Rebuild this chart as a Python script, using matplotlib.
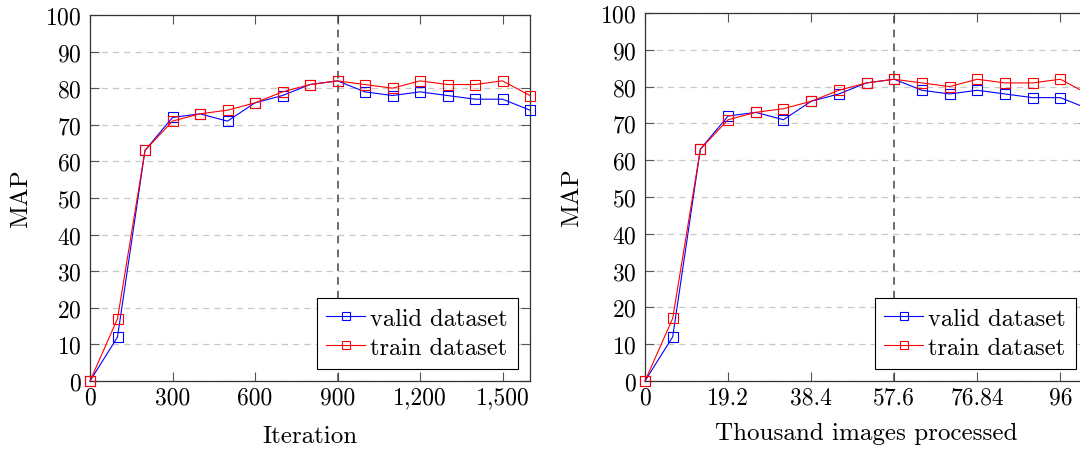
import numpy as np
import matplotlib
matplotlib.use('Agg')
import matplotlib.pyplot as plt

plt.rcParams['font.family'] = ['cmr10', 'DejaVu Serif']
plt.rcParams['axes.formatter.use_mathtext'] = True
plt.rcParams['font.size'] = 17

# data
iterations = np.arange(0, 1700, 100)
valid_map = [0, 12, 63, 72, 73, 71, 76, 78, 81, 82, 79, 78, 79, 78, 77, 77, 74]
train_map = [0, 17, 63, 71, 73, 74, 76, 79, 81, 82, 81, 80, 82, 81, 81, 82, 78]
images_per_iter = 0.064  # thousand images per iteration
best_iter = 900

left_ticks = [0, 300, 600, 900, 1200, 1500]
left_ticklabels = ['0', '300', '600', '900', '1,200', '1,500']
right_ticks = [0, 19.2, 38.4, 57.6, 76.8, 96]
right_ticklabels = ['0', '19.2', '38.4', '57.6', '76.84', '96']
y_ticks = list(range(0, 101, 10))

W, H = 1080, 452
fig = plt.figure(figsize=(W / 100, H / 100), dpi=100)
ax1 = fig.add_axes([90 / W, 70 / H, 440 / W, 366 / H])
ax2 = fig.add_axes([645 / W, 70 / H, 443 / W, 368 / H])


def draw(ax, x, xmax, ticks, ticklabels, vline, xlabel, ylab_x, xlab_y):
	ax.plot(x, valid_map, color='#0000ff', lw=0.8, marker='s', ms=7.5,
			mfc='none', mew=0.8, label='valid dataset', zorder=3, clip_on=False)
	ax.plot(x, train_map, color='#ff0000', lw=0.8, marker='s', ms=7.5,
			mfc='none', mew=0.8, label='train dataset', zorder=3, clip_on=False)
	ax.axvline(vline, color='#444444', lw=1.1, ls=(0, (5, 4)), zorder=2)
	ax.set_xlim(0, xmax)
	ax.set_ylim(0, 100)
	ax.set_xticks(ticks)
	ax.set_xticklabels(ticklabels)
	ax.set_yticks(y_ticks)
	ax.grid(axis='y', color='#c8c8c8', ls=(0, (5, 4)), lw=0.9)
	ax.set_axisbelow(True)
	ax.tick_params(direction='in', length=6.5, width=0.8, color='#555555',
				   top=True, right=True, pad=4)
	ax.tick_params(axis='y', pad=6)
	for s in ax.spines.values():
		s.set_color('#333333')
		s.set_linewidth(0.9)
	ax.set_xlabel(xlabel, fontsize=18)
	ax.set_ylabel('MAP', fontsize=18)
	ax.xaxis.set_label_coords(0.5, xlab_y)
	ax.xaxis.label.set_va('top')
	ax.yaxis.set_label_coords(ylab_x, 0.5)
	leg = ax.legend(loc='lower right', fancybox=False, framealpha=1,
					edgecolor='black', borderaxespad=0.5, handlelength=1.6,
					handletextpad=0.2, borderpad=0.4, labelspacing=0.3,
					markerscale=0.75, fontsize=17.6)
	leg.get_frame().set_linewidth(0.8)
	leg.set_zorder(5)


draw(ax1, iterations, 1600, left_ticks, left_ticklabels, best_iter,
	 'Iteration', -0.132, -0.12)
draw(ax2, iterations * images_per_iter, 1600 * images_per_iter, right_ticks,
	 right_ticklabels, best_iter * images_per_iter,
	 'Thousand images processed', -0.14, -0.11)

fig.savefig('out.png', dpi=100)
